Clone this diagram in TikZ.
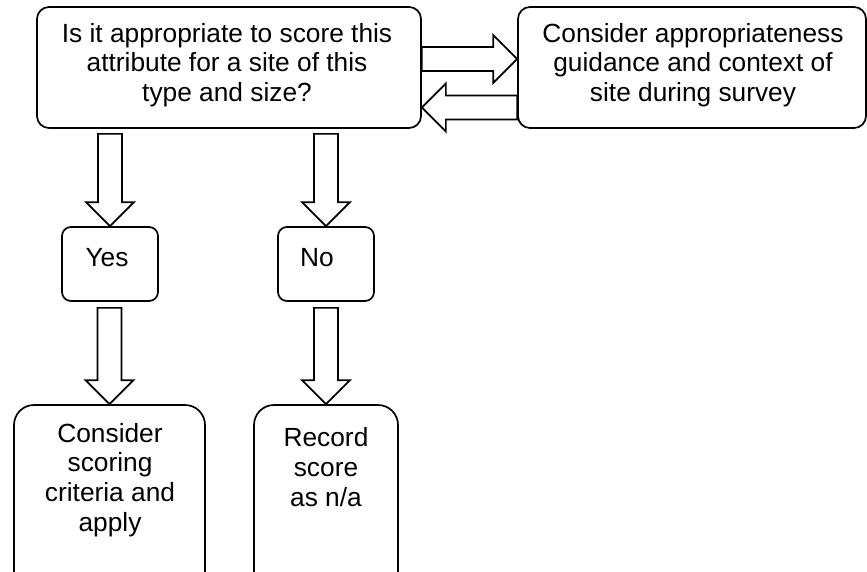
\documentclass[tikz,border=0pt]{standalone}
\usepackage{fontspec}
\setmainfont{Liberation Sans}
\usetikzlibrary{calc}
\tikzset{
  box/.style={draw, rounded corners=#1, inner sep=0pt},
  txt/.style={align=center, inner sep=0pt, font=\fontsize{26.3}{29.7}\selectfont},
  barrow/.style={draw, fill=white, line join=miter, miter limit=20},
}
% down block arrow: #1 top point, #2 tip point
\newcommand\blockdown[2]{%
  \draw[barrow] let \p1=(#1), \p2=(#2) in
    (\x2-12pt,\y1) -- (\x2-12pt,\y2+24pt) -- (\x2-24pt,\y2+24pt) -- (\x2,\y2)
    -- (\x2+24pt,\y2+24pt) -- (\x2+12pt,\y2+24pt) -- (\x2+12pt,\y1) -- cycle;}
% horizontal block arrow: #1 tail point, #2 tip point, #3 direction (+1 right, -1 left), #4 head length
\newcommand\blockhoriz[4]{%
  \draw[barrow] let \p1=(#1), \p2=(#2) in
    (\x1,\y2+12pt) -- (\x2-#3*#4pt,\y2+12pt) -- (\x2-#3*#4pt,\y2+24pt) -- (\x2,\y2)
    -- (\x2-#3*#4pt,\y2-24pt) -- (\x2-#3*#4pt,\y2-12pt) -- (\x1,\y2-12pt) -- cycle;}
\begin{document}
\begin{tikzpicture}[x=1pt, y=-1pt, line width=1.7pt]
\useasboundingbox (0,0) rectangle (867,571);
\clip (0,0) rectangle (867,571);

% boxes
\node[box=12pt, minimum width=384pt, minimum height=121pt] (q) at (229,67.5) {};
\node[box=12pt, minimum width=348pt, minimum height=121pt] (g) at (692,67.5) {};
\node[box=9pt, minimum width=96pt, minimum height=74pt] (yes) at (110,264) {};
\node[box=9pt, minimum width=96pt, minimum height=74pt] (no) at (326,264) {};
\node[box=20pt, minimum width=191pt, minimum height=200pt] (crit) at (109.5,505) {};
\node[box=20pt, minimum width=144pt, minimum height=200pt] (rec) at (326,505) {};

% texts
\node[txt] (qt) at (227,65) {Is it appropriate to score this\\attribute for a site of this\\type and size?};
\node[txt] (gt) at (693,65) {Consider appropriateness\\guidance and context of\\site during survey};
\node[txt] (yest) at (107,258) {Yes};
\node[txt] (not) at (317,258) {No};
\node[txt] (critt) at (110,480) {Consider\\scoring\\criteria and\\apply};
\node[txt] (rect) at (326,467) {Record\\score\\as n/a};

% connectors
\coordinate (q1) at ($(q.east)+(0,-8.5)$);
\coordinate (g1) at ($(g.west)+(0,-8.5)$);
\blockhoriz{q1}{g1}{1}{24}
\coordinate (q2) at ($(q.east)+(0,40)$);
\coordinate (g2) at ($(g.west)+(0,40)$);
\blockhoriz{g2}{q2}{-1}{24}

\coordinate (qy) at ($(yes.north |- q.south)+(0,5)$);
\blockdown{qy}{yes.north}
\coordinate (qn) at ($(no.north |- q.south)+(0,5)$);
\blockdown{qn}{no.north}
\coordinate (yc) at ($(yes.south)+(0,6)$);
\blockdown{yc}{crit.north}
\coordinate (nr) at ($(no.south)+(0,6)$);
\blockdown{nr}{rec.north}
\end{tikzpicture}
\end{document}
